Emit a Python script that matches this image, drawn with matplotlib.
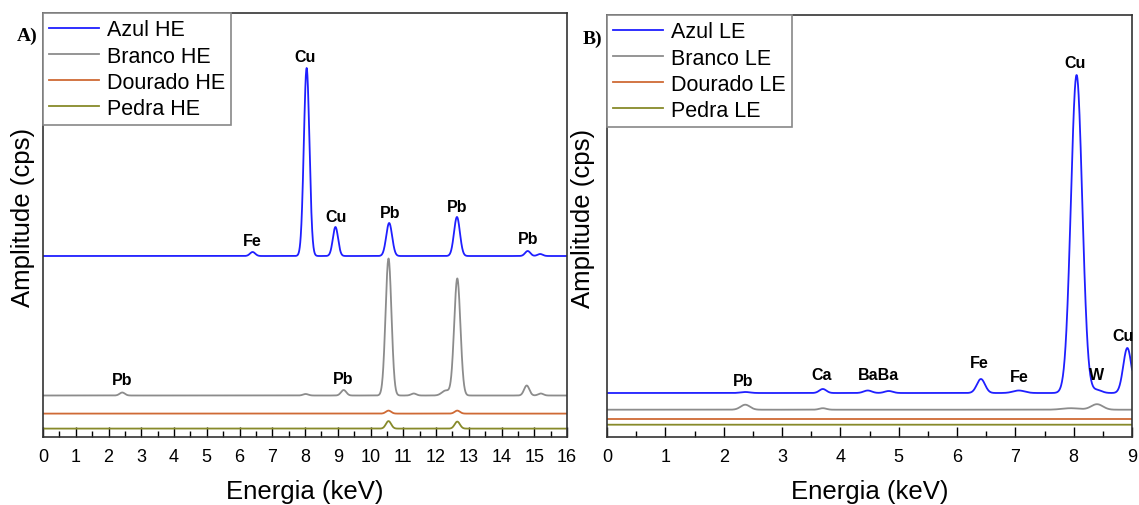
import numpy as np
import matplotlib
matplotlib.use("Agg")
import matplotlib.pyplot as plt
from matplotlib.ticker import MultipleLocator

plt.rcParams['font.family'] = ['Liberation Sans', 'DejaVu Sans']

# ---------------- Data ----------------
# Panel A (high energy), values in arbitrary cps (offset stacked)
series_A = ["Azul HE", "Branco HE", "Dourado HE", "Pedra HE"]
colors = ["#1f1fff", "#8c8c8c", "#cf6a35", "#878a2a"]

A_azul_base = 181
A_azul_pos = [6.40, 8.05, 8.93, 10.57, 12.64, 14.80, 15.18]
A_azul_amp = [4, 188, 29, 33, 39, 5, 2]
A_azul_sig = [0.08, 0.085, 0.08, 0.09, 0.09, 0.08, 0.08]

A_branco_base = 41.5
A_branco_pos = [2.42, 8.02, 9.18, 10.55, 11.32, 12.30, 12.65, 14.77, 15.20]
A_branco_amp = [3, 1.5, 5.5, 137, 2, 5, 117, 10, 2]
A_branco_sig = [0.08, 0.08, 0.08, 0.09, 0.08, 0.12, 0.095, 0.08, 0.08]

A_dourado_base = 23.4
A_dourado_pos = [10.55, 12.65]
A_dourado_amp = [3, 3]
A_dourado_sig = [0.08, 0.08]

A_pedra_base = 8.4
A_pedra_pos = [10.55, 12.65]
A_pedra_amp = [7.5, 7]
A_pedra_sig = [0.08, 0.08]

A_lab_text = ["Fe", "Cu", "Cu", "Pb", "Pb", "Pb", "Pb", "Pb"]
A_lab_x = [6.40, 8.00, 8.95, 10.60, 12.65, 14.80, 2.42, 9.16]
A_lab_y = [197, 381, 221, 225, 231, 198, 57, 58]

# Panel B (low energy)
series_B = ["Azul LE", "Branco LE", "Dourado LE", "Pedra LE"]

B_azul_base = 44
B_azul_pos = [2.37, 3.70, 4.47, 4.83, 6.41, 7.06, 8.05, 8.40, 8.92]
B_azul_amp = [1, 4, 2.5, 2, 14, 2.5, 318, 3, 45]
B_azul_sig = [0.08, 0.06, 0.07, 0.07, 0.07, 0.1, 0.097, 0.08, 0.07]

B_branco_base = 27.3
B_branco_pos = [2.37, 3.70, 7.95, 8.40]
B_branco_amp = [5, 1.5, 1.5, 5.5]
B_branco_sig = [0.08, 0.06, 0.15, 0.1]

B_dourado_base = 18
B_pedra_base = 12.3

B_lab_text = ["Pb", "Ca", "BaBa", "Fe", "Fe", "Cu", "W", "Cu"]
B_lab_x = [2.33, 3.68, 4.65, 6.38, 7.06, 8.03, 8.40, 8.84]
B_lab_y = [56, 62, 62, 74, 60, 375, 62, 101]


def spectrum(x, base, pos, amp, sig):
    y = np.full_like(x, float(base))
    for p, a, s in zip(pos, amp, sig):
        y += a * np.exp(-0.5 * ((x - p) / s) ** 2)
    return y


fig = plt.figure(figsize=(11.39, 5.06), dpi=100)

axA = fig.add_axes([43 / 1139, 68 / 506, 524 / 1139, 424 / 506])
axB = fig.add_axes([607 / 1139, 68 / 506, 525 / 1139, 422 / 506])

xA = np.linspace(0, 16, 3201)
specA = [
    spectrum(xA, A_azul_base, A_azul_pos, A_azul_amp, A_azul_sig),
    spectrum(xA, A_branco_base, A_branco_pos, A_branco_amp, A_branco_sig),
    spectrum(xA, A_dourado_base, A_dourado_pos, A_dourado_amp, A_dourado_sig),
    spectrum(xA, A_pedra_base, A_pedra_pos, A_pedra_amp, A_pedra_sig),
]
for y, lab, c in zip(specA, series_A, colors):
    axA.plot(xA, y, color=c, lw=1.3, label=lab)

xB = np.linspace(0, 9, 1801)
specB = [
    spectrum(xB, B_azul_base, B_azul_pos, B_azul_amp, B_azul_sig),
    spectrum(xB, B_branco_base, B_branco_pos, B_branco_amp, B_branco_sig),
    spectrum(xB, B_dourado_base, [], [], []),
    spectrum(xB, B_pedra_base, [], [], []),
]
for y, lab, c in zip(specB, series_B, colors):
    axB.plot(xB, y, color=c, lw=1.3, label=lab)

for t, x, y in zip(A_lab_text, A_lab_x, A_lab_y):
    axA.text(x, y, t, ha="center", va="center", fontsize=11.5, fontweight="bold")
for t, x, y in zip(B_lab_text, B_lab_x, B_lab_y):
    axB.text(x, y, t, ha="center", va="center", fontsize=11.5, fontweight="bold", clip_on=False)

for ax, xmax, ymax, series, ylx in [(axA, 16, 424, series_A, -0.016),
                                     (axB, 9, 422, series_B, -0.022)]:
    ax.set_xlim(0, xmax)
    ax.set_ylim(0, ymax)
    ax.xaxis.set_major_locator(MultipleLocator(1))
    ax.xaxis.set_minor_locator(MultipleLocator(0.5))
    ax.tick_params(axis="x", which="major", direction="in", length=7, width=1, labelsize=13, pad=8)
    ax.tick_params(axis="x", which="minor", direction="in", length=4, width=1)
    ax.set_yticks([])
    for s in ax.spines.values():
        s.set_color("#333333")
        s.set_linewidth(1.2)
    ax.set_xlabel("Energia (keV)", fontsize=18.5, labelpad=10)
    ax.set_ylabel("Amplitude (cps)", fontsize=18.5)
    ax.yaxis.set_label_coords(ylx, 0.52)
    leg = ax.legend(loc="upper left", bbox_to_anchor=(0, 1), borderaxespad=0,
                    fontsize=15.5, handlelength=2.3, handletextpad=0.35,
                    labelspacing=0.24, borderpad=0.3, fancybox=False,
                    framealpha=1, edgecolor="#888888")
    leg.get_frame().set_linewidth(1.2)

fig.text(17 / 1139, 1 - 36 / 506, "A)", fontsize=14, fontweight="bold",
         family=["Liberation Serif", "DejaVu Serif"], va="center", ha="left")
fig.text(583 / 1139, 1 - 39 / 506, "B)", fontsize=14, fontweight="bold",
         family=["Liberation Serif", "DejaVu Serif"], va="center", ha="left")

fig.savefig("out.png", dpi=100)
